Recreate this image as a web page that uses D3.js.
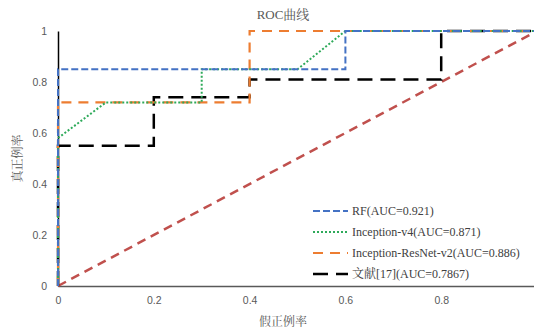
<!DOCTYPE html>
<html><head><meta charset="utf-8">
<script src="https://cdn.jsdelivr.net/npm/d3@7"></script>
<style>body{margin:0;background:#fff}svg{display:block}</style>
</head><body>
<script>
const title = "ROC曲线";
const xLabel = "假正例率";
const yLabel = "真正例率";
const xTicks = [0, 0.2, 0.4, 0.6, 0.8];
const yTicks = [0, 0.2, 0.4, 0.6, 0.8, 1];
const seriesNames = ["RF(AUC=0.921)", "Inception-v4(AUC=0.871)", "Inception-ResNet-v2(AUC=0.886)", "文献[17](AUC=0.7867)"];
const rfFPR = [0, 0, 0.6, 0.6, 1];
const rfTPR = [0, 0.85, 0.85, 1, 1];
const v4FPR = [0, 0, 0.1, 0.3, 0.3, 0.5, 0.6, 1];
const v4TPR = [0, 0.58, 0.72, 0.72, 0.85, 0.85, 1, 1];
const irFPR = [0, 0, 0.4, 0.4, 1];
const irTPR = [0, 0.72, 0.72, 1, 1];
const refFPR = [0, 0, 0.2, 0.2, 0.4, 0.4, 0.8, 0.8, 1];
const refTPR = [0, 0.55, 0.55, 0.74, 0.74, 0.81, 0.81, 1, 1];
const diagFPR = [0, 1];
const diagTPR = [0, 1];

const W = 534, H = 331;
const svg = d3.select("body").append("svg").attr("width", W).attr("height", H);
const x = d3.scaleLinear().domain([0, 1]).range([58, 537]);
const y = d3.scaleLinear().domain([0, 1]).range([286, 31]);

const gray = "#595959";
const tickFont = "'Liberation Sans', Arial, sans-serif";
const serif = "'Liberation Serif', 'Times New Roman', 'Noto Serif CJK SC', 'Noto Sans CJK SC', serif";

// title
svg.append("text").attr("x", 283).attr("y", 19).attr("text-anchor", "middle")
  .attr("font-family", serif).attr("font-size", 13).attr("fill", gray).text(title);

// axes
const xAxis = d3.axisBottom(x).tickValues(xTicks).tickFormat(d3.format("~g")).tickSize(0).tickPadding(11);
const gx = svg.append("g").attr("transform", `translate(0,${y(0)})`).call(xAxis);
gx.select(".domain").attr("stroke", gray).attr("stroke-width", 1.5);
gx.selectAll("text").attr("font-family", tickFont).attr("font-size", 10.5).attr("fill", gray);

const yAxis = d3.axisLeft(y).tickValues(yTicks).tickFormat(d3.format("~g")).tickSize(0).tickPadding(11);
const gy = svg.append("g").attr("transform", `translate(${x(0)},0)`).call(yAxis);
gy.select(".domain").attr("stroke", "#000").attr("stroke-width", 1.5);
gy.selectAll("text").attr("font-family", tickFont).attr("font-size", 10.5).attr("fill", gray);

svg.append("text").attr("transform", `translate(22,${y(0.5)}) rotate(-90)`)
  .attr("text-anchor", "middle").attr("font-family", serif).attr("font-size", 12)
  .attr("fill", gray).text(yLabel);
svg.append("text").attr("x", 283).attr("y", 326).attr("text-anchor", "middle")
  .attr("font-family", serif).attr("font-size", 12).attr("fill", gray).text(xLabel);

const line = d3.line().x(d => x(d[0])).y(d => y(d[1]));
const zip = (a, b) => a.map((v, i) => [v, b[i]]);

// diagonal
svg.append("path").datum(zip(diagFPR, diagTPR)).attr("d", line)
  .attr("fill", "none").attr("stroke", "#c0504d").attr("stroke-width", 2.5).attr("stroke-dasharray", "9,6");

const styles = [
  {fpr: rfFPR, tpr: rfTPR, color: "#4472c4", w: 2, dash: "7,3"},
  {fpr: v4FPR, tpr: v4TPR, color: "#2eaa5a", w: 2, dash: "2,2"},
  {fpr: irFPR, tpr: irTPR, color: "#ed7d31", w: 2.2, dash: "10,7"},
  {fpr: refFPR, tpr: refTPR, color: "#000000", w: 2.5, dash: "15,8"}
];
[3, 2, 1, 0].forEach(i => {
  const s = styles[i];
  svg.append("path").datum(zip(s.fpr, s.tpr)).attr("d", line)
    .attr("fill", "none").attr("stroke", s.color).attr("stroke-width", s.w)
    .attr("stroke-dasharray", s.dash);
});

// legend
const lg = svg.append("g");
seriesNames.forEach((name, i) => {
  const s = styles[i];
  const yy = 211 + i * 21;
  lg.append("line").attr("x1", 313).attr("x2", 348).attr("y1", yy).attr("y2", yy)
    .attr("stroke", s.color).attr("stroke-width", s.w).attr("stroke-dasharray", s.dash);
  lg.append("text").attr("x", 352).attr("y", yy + 4).attr("font-family", serif)
    .attr("font-size", 12).attr("fill", "#404040").text(name);
});
</script>
</body></html>
